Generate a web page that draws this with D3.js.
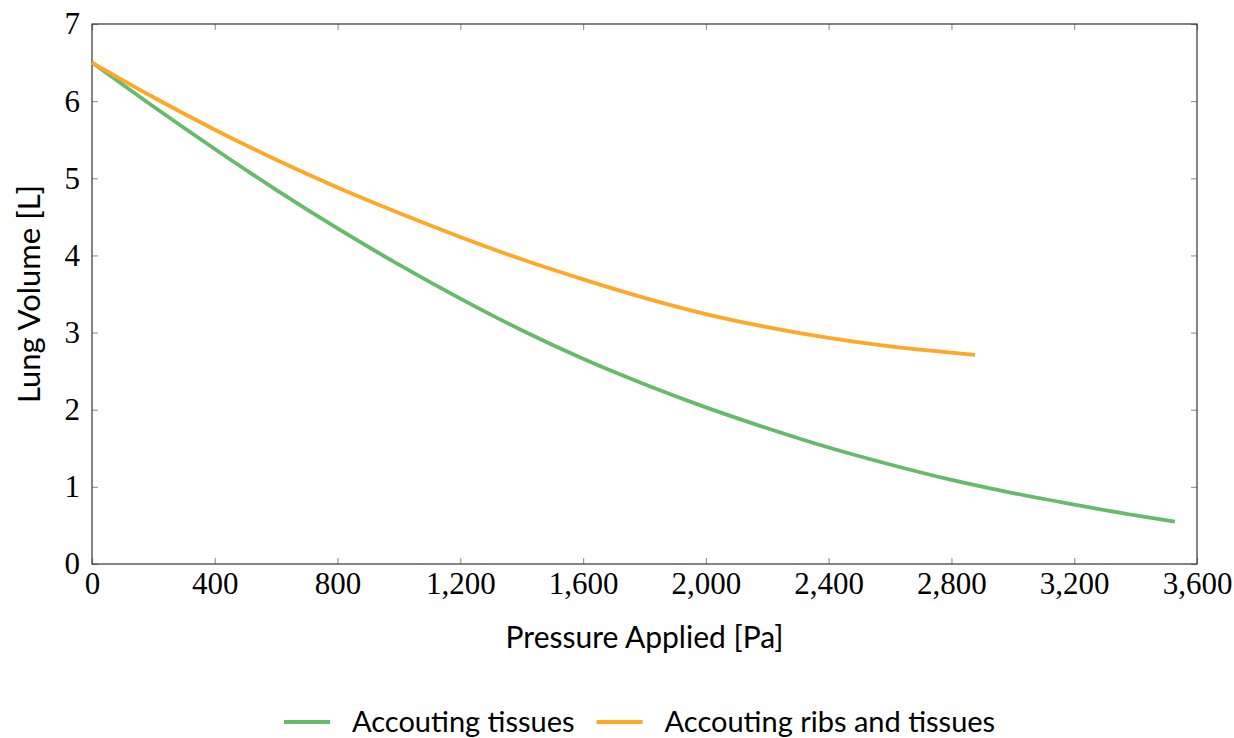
<!DOCTYPE html>
<html>
<head>
<meta charset="utf-8">
<script src="https://cdn.jsdelivr.net/npm/d3@7"></script>
<style>
  html, body { margin: 0; padding: 0; background: #fff; }
  svg { display: block; }
</style>
</head>
<body>
<svg id="chart" width="1234" height="738"></svg>
<script>
// ---- data ----
const tissuesPressure = [0, 200, 400, 600, 800, 1000, 1200, 1400, 1600, 1800, 2000, 2200, 2400, 2600, 2800, 3000, 3200, 3400, 3528];
const tissuesVolume   = [6.50, 5.93, 5.38, 4.85, 4.35, 3.88, 3.44, 3.03, 2.66, 2.33, 2.03, 1.76, 1.51, 1.29, 1.09, 0.92, 0.77, 0.63, 0.55];

const ribsPressure = [0, 200, 400, 600, 800, 1000, 1200, 1400, 1600, 1800, 2000, 2200, 2400, 2600, 2800, 2877];
const ribsVolume   = [6.50, 6.05, 5.63, 5.24, 4.88, 4.55, 4.24, 3.95, 3.69, 3.45, 3.24, 3.07, 2.93, 2.82, 2.74, 2.71];

const xTicks = [0, 400, 800, 1200, 1600, 2000, 2400, 2800, 3200, 3600];
const yTicks = [0, 1, 2, 3, 4, 5, 6, 7];
const seriesNames = ["Accouting tissues", "Accouting ribs and tissues"];
const seriesColors = ["#66bb6a", "#ffa726"];
const xLabel = "Pressure Applied [Pa]";
const yLabel = "Lung Volume [L]";

// ---- layout ----
const svg = d3.select("#chart");
const plot = { left: 92, right: 1197, top: 24, bottom: 564 };
const x = d3.scaleLinear().domain([0, 3600]).range([plot.left, plot.right]);
const y = d3.scaleLinear().domain([0, 7]).range([plot.bottom, plot.top]);

const serif = "'Liberation Serif', 'DejaVu Serif', serif";
const sans = "Lato, 'DejaVu Sans', sans-serif";
const fmt = d3.format(",");

// inner ticks (top/bottom/left/right)
const tickLen = 6;
const tickColor = "#999";
const g = svg.append("g");

const xAxisB = d3.axisBottom(x).tickValues(xTicks).tickSize(-tickLen).tickFormat(fmt).tickPadding(8);
const xAxisT = d3.axisTop(x).tickValues(xTicks).tickSize(-tickLen).tickFormat("");
const yAxisL = d3.axisLeft(y).tickValues(yTicks).tickSize(-tickLen).tickFormat(d3.format("d")).tickPadding(12);
const yAxisR = d3.axisRight(y).tickValues(yTicks).tickSize(-tickLen).tickFormat("");

function style(sel) {
  sel.select(".domain").remove();
  sel.selectAll(".tick line").attr("stroke", tickColor).attr("stroke-width", 1.2);
  sel.selectAll(".tick text").attr("fill", "#000").style("font-family", serif).style("font-size", "31px");
}
g.append("g").attr("transform", `translate(0,${plot.bottom})`).call(xAxisB).call(style);
g.append("g").attr("transform", `translate(0,${plot.top})`).call(xAxisT).call(style);
g.append("g").attr("transform", `translate(${plot.left},0)`).call(yAxisL).call(style);
g.append("g").attr("transform", `translate(${plot.right},0)`).call(yAxisR).call(style);

// frame
svg.append("rect")
  .attr("x", plot.left).attr("y", plot.top)
  .attr("width", plot.right - plot.left).attr("height", plot.bottom - plot.top)
  .attr("fill", "none").attr("stroke", "#333").attr("stroke-width", 1.2);

// lines
const series = [
  { name: seriesNames[0], color: seriesColors[0], pts: tissuesPressure.map((p, i) => [p, tissuesVolume[i]]) },
  { name: seriesNames[1], color: seriesColors[1], pts: ribsPressure.map((p, i) => [p, ribsVolume[i]]) }
];
const line = d3.line().x(d => x(d[0])).y(d => y(d[1])).curve(d3.curveMonotoneX);
series.forEach(s => {
  svg.append("path").attr("d", line(s.pts))
    .attr("fill", "none").attr("stroke", s.color).attr("stroke-width", 3.8);
});

// axis labels
svg.append("text").attr("x", (plot.left + plot.right) / 2).attr("y", 648)
  .attr("text-anchor", "middle").style("font-family", sans).style("font-size", "30px")
  .text(xLabel);
svg.append("text").attr("transform", `translate(40,${(plot.top + plot.bottom) / 2}) rotate(-90)`)
  .attr("text-anchor", "middle").style("font-family", sans).style("font-size", "31px")
  .text(yLabel);

// legend
const legend = svg.append("g");
let lx = 284;
const ly = 722;
series.forEach((s, i) => {
  legend.append("line").attr("x1", lx).attr("x2", lx + 46).attr("y1", ly).attr("y2", ly)
    .attr("stroke", s.color).attr("stroke-width", 3.8);
  const t = legend.append("text").attr("x", lx + 68).attr("y", ly + 10)
    .style("font-family", sans).style("font-size", "29px").text(s.name);
  lx = lx + 68 + t.node().getComputedTextLength() + 22;
});
</script>
</body>
</html>
